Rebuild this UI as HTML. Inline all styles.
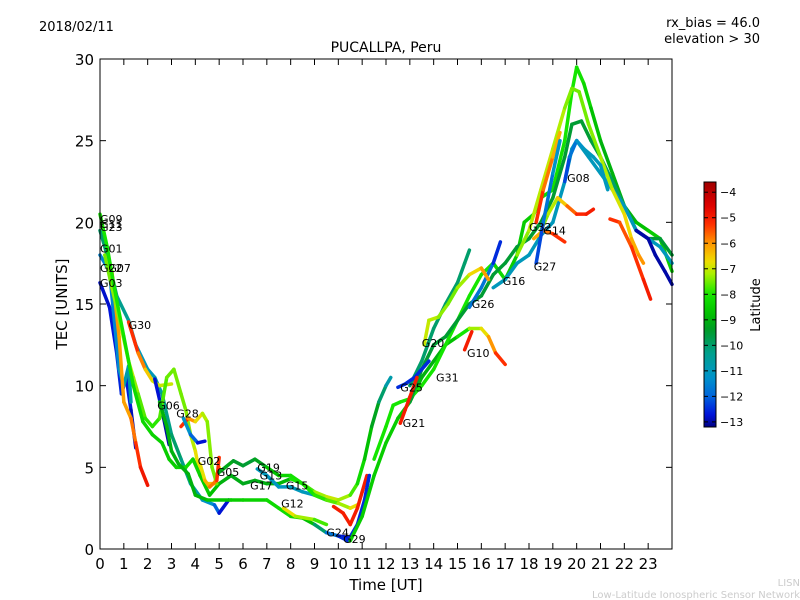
<!DOCTYPE html>
<html><head><meta charset="utf-8"><style>
body{margin:0;background:#fff;}
svg{display:block;font-family:"DejaVu Sans","Liberation Sans",sans-serif;}
</style></head><body>
<svg id="chart" width="800" height="600" xmlns="http://www.w3.org/2000/svg">
<text x="39" y="31" font-size="13">2018/02/11</text>
<text x="760" y="27" font-size="13" text-anchor="end">rx_bias = 46.0</text>
<text x="760" y="43" font-size="13" text-anchor="end">elevation &gt; 30</text>
<text x="386" y="52" font-size="14" text-anchor="middle">PUCALLPA, Peru</text>
<text x="386" y="590" font-size="15" text-anchor="middle">Time [UT]</text>
<text transform="translate(67,304) rotate(-90)" font-size="15" text-anchor="middle">TEC [UNITS]</text>
<text x="800" y="586" font-size="10" fill="#ccc" text-anchor="end">LISN</text>
<text x="800" y="598" font-size="10" fill="#ccc" text-anchor="end">Low-Latitude Ionospheric Sensor Network</text>
<g id="marks"></g>
<g id="axes"></g>
<g id="cbar"></g>
</svg>
<script>
const xTicks=[0,1,2,3,4,5,6,7,8,9,10,11,12,13,14,15,16,17,18,19,20,21,22,23];
const yTicks=[0,5,10,15,20,25,30];
const cbTicks=[-4,-5,-6,-7,-8,-9,-10,-11,-12,-13];
const latMin=-13.2, latMax=-3.6;
const labelNames=["G09","G11","G23","G01","G22","G07","G03","G30","G06","G28","G02","G05","G19","G13","G17","G15","G12","G24","G29","G25","G21","G31","G20","G10","G26","G16","G27","G32","G14","G08"];
const labelT=[0,0,0,0,0,0.35,0,1.2,2.4,3.2,4.1,4.9,6.6,6.7,6.3,7.8,7.6,9.5,10.2,12.6,12.7,14.1,13.5,15.4,15.6,16.9,18.2,18.0,18.6,19.6];
const labelV=[20.2,19.9,19.7,18.4,17.2,17.2,16.3,13.7,8.8,8.3,5.4,4.7,5.0,4.5,3.9,3.9,2.8,1.0,0.6,9.9,7.7,10.5,12.6,12.0,15.0,16.4,17.3,19.7,19.5,22.7];
const traces=[
{t:[0,0.4,0.7,0.9,1.1,1.3,1.5],v:[16.3,14.8,12,9.5,10.5,8.5,6.2],lat:[-12.8,-12.8,-12.6,-12.5,-12.5,-12.8,-13]},
{t:[0,0.4,0.6,0.8,1.0,1.2,1.3],v:[18,17,14,11,10,11.2,9],lat:[-11.5,-11.5,-11.5,-11.3,-11,-10.5,-11]},
{t:[0,0.3,0.7,1.2,1.5,2,2.3,2.6,3,3.4,3.8,4.3,4.8,5.0,5.4],v:[19.5,18,15.5,14,12.5,11,10.5,9.5,7,5.5,4,3,2.7,2.2,3],lat:[-10,-10,-10.2,-10.5,-11,-11,-11,-10.5,-10,-10,-10.5,-11,-11.5,-12.5,-13]},
{t:[1.2,1.6,1.9,2.2,2.5,3],v:[13.9,12,11,10.3,10,10.1],lat:[-5,-5.5,-6.2,-6.8,-7,-7]},
{t:[2.3,2.6,2.9],v:[10.4,8.5,6.4],lat:[-12.5,-13,-13]},
{t:[0.5,0.8,1.0,1.3,1.5,1.7,2.0],v:[17,13,9,8,6.5,5,3.9],lat:[-6,-6,-6.2,-6,-5.5,-5,-4.8]},
{t:[0.2,0.5,0.9,1.2,1.4,1.6,1.9,2.2,2.5,2.8,3.1,3.4,3.6,3.8,4.0,4.2,4.4,4.8,5.0],v:[18,16,13.5,11.5,10.5,9.5,8,7.5,8,10.5,11,9.5,8.5,7,6,4.5,4,4,5],lat:[-7.5,-7.5,-7.2,-7,-7.2,-7.5,-7.8,-8,-7.8,-7.6,-7.5,-7.5,-7.5,-7.2,-7,-6.5,-6.5,-6.5,-6.8]},
{t:[0,0.3,0.6,1.0,1.4,1.8,2.2,2.6,2.9,3.2,3.6,3.9,4.2,4.6,5,5.5,6,6.5,7,7.5,8],v:[20.5,18.5,16,13,10,7.8,7,6.5,5.5,5,5,5.5,4.5,3.3,4,4.5,4,4.2,4,4,4.3],lat:[-8,-8,-8,-8,-8.2,-8.3,-8.3,-8.5,-8.5,-8.5,-8.2,-8.2,-8.5,-8.5,-9,-9,-9.2,-9.2,-9,-9,-8.8]},
{t:[2.5,2.8,3.0,3.3,3.7,4.0,4.5,5.5,6,7,7.5,8,8.5,9,9.5,10,10.5],v:[9,7.5,6,5.2,4.6,3.3,3,3,3,3,2.5,2,1.9,1.5,1,0.8,0.7],lat:[-9,-9,-9,-9,-9,-9,-8.8,-8.5,-8.5,-8.3,-8.2,-8.2,-8.5,-9,-11,-12.5,-13]},
{t:[3.4,3.7,4.0,4.3,4.5,4.7,4.9],v:[7.5,8,7.8,8.3,7.8,5,4],lat:[-5,-5.5,-6.5,-7,-7.3,-7.5,-7.5]},
{t:[3.5,3.8,4.1,4.4],v:[8,7,6.5,6.6],lat:[-11,-11.5,-12.5,-13]},
{t:[4.2,4.4,4.6,4.9,5.0],v:[5.2,4.2,3.8,4.2,5.6],lat:[-7,-6.5,-6,-5.5,-5]},
{t:[5,5.6,6,6.5,7,7.5,8,8.5,9,9.5,10,10.5,10.8,11.1,11.4,11.7,12,12.2],v:[4.7,5.4,5.1,5.5,5,4.5,4.5,4,3.5,3.2,3,3.3,4,5.5,7.5,9,10,10.5],lat:[-9,-9.3,-9.5,-9.5,-9,-8.5,-8.2,-8,-7.5,-7,-7,-7.5,-8,-8.5,-9,-9.5,-10.5,-11]},
{t:[6.6,7,7.5,8,8.5,9,9.5],v:[4.9,4.5,3.8,3.8,3.5,3.3,3],lat:[-11,-11,-11.2,-11,-11,-11,-11]},
{t:[7.7,8.2,9,9.5],v:[2.5,2,1.8,1.5],lat:[-6.5,-7,-7.5,-8]},
{t:[8,8.5,9,9.5,10,10.5,10.8],v:[4.3,4,3.3,3,2.8,2.5,2.7],lat:[-8,-8,-8,-7.8,-7.5,-7,-6.5]},
{t:[9.8,10.2,10.5,10.8,11.0,11.2],v:[2.6,2.2,1.5,2.5,3.5,4.5],lat:[-5,-5,-5,-5,-5,-5]},
{t:[10,10.4,10.8,11.1,11.3],v:[0.8,0.5,1.5,3,4.5],lat:[-12.5,-12.5,-12.5,-12.5,-12.5]},
{t:[10.5,11,11.5,12,12.5,13,13.5,14,14.5,15,15.5,16,16.3,16.6,17],v:[0.5,2,4.5,6.5,8,9,10.5,11.5,12.5,13,13.5,13.5,13,12,11.3],lat:[-8.5,-8.5,-8.5,-8.5,-8.5,-8.8,-9,-9,-9,-8.5,-7.5,-7,-6.5,-5.5,-5]},
{t:[11.5,12,12.3,12.6,13,13.5,14,14.5,15,15.5,16,16.5,17,17.5,17.8,18.2,18.5,19,19.5,19.8,20,20.3,20.6,21,21.5,22,22.5,23,23.5,24],v:[5.5,7.5,8.8,9,9.2,10,11,12.5,14,15.5,16.8,17.5,16.5,18,20,20.5,21.5,22,25,28,29.5,28.5,27,25,23,21,20,19.5,19,17],lat:[-8,-8,-8,-8,-8,-8,-8,-8,-8,-8,-8,-8,-8.5,-8.5,-8.5,-8.5,-8.3,-8.2,-8,-8,-8,-8.2,-8.5,-9,-9,-9,-9,-8.5,-8.5,-8.5]},
{t:[13,13.5,14,14.5,15,15.5,16,16.5,17,17.5,18,18.5,19,19.5,19.8,20.2,20.6,21,21.5,22,22.5,23,23.5,24],v:[9,11,12.5,13,14,15,15.5,16.8,17.5,18.5,19,20,21.5,24,26,26.2,25,24,22.5,21,19.5,19,19,18],lat:[-9.5,-9.5,-9.5,-9.5,-9.5,-9.5,-9.5,-9.5,-9.5,-9.5,-9.5,-9.5,-9.5,-9.5,-9.5,-9.5,-9.5,-9.8,-10,-10,-9.5,-9.5,-9.5,-9.5]},
{t:[13,13.5,14,14.5,15,15.3,15.5],v:[10,11.5,13.5,15,16.3,17.5,18.3],lat:[-10,-10,-10,-10,-10,-10,-10]},
{t:[15.5,16,16.5,16.8],v:[14.8,16,17.5,18.8],lat:[-12,-11.5,-12,-13]},
{t:[16.5,17,17.5,18,18.5,19,19.5,19.8,20,20.5,21,21.5,22,22.5,23,23.5,24],v:[16,16.5,17.5,18,19.2,20,22.5,24.5,25,24,23,22,21,19.5,19,18.5,17.5],lat:[-11,-11,-11,-11,-11,-11,-11,-11,-11,-11,-11,-11,-11,-11,-11,-11,-11]},
{t:[13.6,13.8,14.2,14.6,15,15.5,16,16.3],v:[12.5,14,14.2,15,16,16.8,17.2,16.5],lat:[-7,-7,-7.2,-7.5,-7.5,-7,-6.3,-5.8]},
{t:[17.5,18,18.5,19,19.5,19.8,20.1,20.5,21,21.5,22,22.3,22.6,22.8],v:[18,19.5,22,24.5,27,28.2,28,26,24,22,20.5,19,18,17.5],lat:[-7.5,-7.2,-7,-7,-7.3,-7.5,-7.5,-7.5,-7.3,-7,-6.8,-6.5,-6,-6]},
{t:[18.3,18.6,19,19.3],v:[20,22,24,25.5],lat:[-5,-5.5,-6,-6.5]},
{t:[18.5,18.8,19.2,19.6,20,20.4,20.7],v:[19.5,20.5,21.5,21,20.5,20.5,20.8],lat:[-7.5,-7.2,-7,-6,-5.3,-5,-5]},
{t:[18.2,18.6,19,19.5],v:[19,19.5,19.3,18.8],lat:[-6.5,-6,-5.5,-5]},
{t:[19.5,19.7,20,20.3,20.7,21,21.3],v:[22.5,24,25,24.5,24,23.5,22],lat:[-12.5,-12,-11.5,-11,-11,-11,-11]},
{t:[21.4,21.8,22.3,22.8,23.1],v:[20.2,20,18.5,16.5,15.3],lat:[-5,-5.5,-5.5,-5,-5]},
{t:[22.5,23,23.3,23.7,24],v:[19.5,19,18,17,16.2],lat:[-13,-13,-13,-13,-13]},
{t:[12.5,12.8,13.2,13.5,13.8],v:[9.9,10.1,10.5,11,11.5],lat:[-12.5,-12.5,-12.5,-12.5,-12.5]},
{t:[12.6,12.8,13,13.3],v:[7.7,8.5,9.3,10.5],lat:[-5,-5,-5,-5]},
{t:[18.3,18.6,19,19.3],v:[17.5,20,23,25],lat:[-12.5,-12,-11.5,-11]},
{t:[15.3,15.6],v:[12.2,13.3],lat:[-5,-5]}
];
const X0=100,X1=672,Y0=549,Y1=59;
const sx=t=>X0+t*(X1-X0)/24, sy=v=>Y0-v*(Y0-Y1)/30;
const cmStops=[[-13.2,0,0,130],[-12.7,0,20,220],[-12.0,0,100,220],[-11.2,0,150,200],[-10.3,0,160,140],[-9.4,0,155,40],[-8.8,0,190,0],[-8.0,20,230,0],[-7.2,170,240,0],[-6.7,240,220,0],[-6.0,255,150,0],[-5.2,255,40,0],[-4.5,220,0,0],[-3.6,160,0,0]];
function col(l){
 if(l<=cmStops[0][0])return `rgb(${cmStops[0][1]},${cmStops[0][2]},${cmStops[0][3]})`;
 for(let i=0;i<cmStops.length-1;i++){const a=cmStops[i],b=cmStops[i+1];
  if(l<=b[0]){const f=(l-a[0])/(b[0]-a[0]);return `rgb(${Math.round(a[1]+f*(b[1]-a[1]))},${Math.round(a[2]+f*(b[2]-a[2]))},${Math.round(a[3]+f*(b[3]-a[3]))})`;}}
 const z=cmStops[cmStops.length-1];return `rgb(${z[1]},${z[2]},${z[3]})`;}
const NS="http://www.w3.org/2000/svg";
function mk(tag,attrs,parent){const e=document.createElementNS(NS,tag);for(const k in attrs)e.setAttribute(k,attrs[k]);parent.appendChild(e);return e;}
const marks=document.getElementById('marks');
traces.forEach((tr,i)=>{
 const g=mk('g',{},marks);
 
 
 for(let j=0;j<tr.t.length-1;j++){
  const s=mk('line',{x1:sx(tr.t[j]),y1:sy(tr.v[j]),x2:sx(tr.t[j+1]),y2:sy(tr.v[j+1]),stroke:col((tr.lat[j]+tr.lat[j+1])/2),'stroke-width':3.5,'stroke-linecap':'round'},g);
  
  
 }
});
labelNames.forEach((n,i)=>{
 const t=mk('text',{x:sx(labelT[i]),y:sy(labelV[i])+4,'font-size':11},marks);
 t.textContent=n;
 
 
});
const ax=document.getElementById('axes');
const frame=mk('rect',{x:X0,y:Y1,width:X1-X0,height:Y0-Y1,fill:'none',stroke:'#000','stroke-width':1},ax);


xTicks.forEach(t=>{
 const x=sx(t);
 mk('line',{x1:x,y1:Y0,x2:x,y2:Y0-6,stroke:'#000'},ax);
 mk('line',{x1:x,y1:Y1,x2:x,y2:Y1+6,stroke:'#000'},ax);
 const l=mk('text',{x:x,y:Y0+20,'font-size':15,'text-anchor':'middle'},ax);
 l.textContent=t;
 
 
});
yTicks.forEach(v=>{
 const y=sy(v);
 mk('line',{x1:X0,y1:y,x2:X0+6,y2:y,stroke:'#000'},ax);
 mk('line',{x1:X1,y1:y,x2:X1-6,y2:y,stroke:'#000'},ax);
 const l=mk('text',{x:X0-6,y:y+6,'font-size':15,'text-anchor':'end'},ax);
 l.textContent=v;
 
 
});
const cb=document.getElementById('cbar');
const CB0=182,CB1=427,CBX=704,CBW=12;
const defs=mk('defs',{},cb);
const grad=mk('linearGradient',{id:'jetg',x1:0,y1:1,x2:0,y2:0},defs);
for(let i=0;i<=40;i++){const l=latMin+(latMax-latMin)*i/40;mk('stop',{offset:i/40,'stop-color':col(l)},grad);}
const cbr=mk('rect',{x:CBX,y:CB0,width:CBW,height:CB1-CB0,fill:'url(#jetg)',stroke:'#000'},cb);


const cy=l=>CB1-(l-latMin)/(latMax-latMin)*(CB1-CB0);
cbTicks.forEach(l=>{
 const y=cy(l);
 mk('line',{x1:CBX+CBW-4,y1:y,x2:CBX+CBW,y2:y,stroke:'#000'},cb);
 mk('line',{x1:CBX,y1:y,x2:CBX+4,y2:y,stroke:'#000'},cb);
 const t=mk('text',{x:CBX+CBW+4,y:y+4,'font-size':11},cb);
 t.textContent=String(l).replace('-','\u2212');
 
 
});
const lt=mk('text',{transform:'translate(760,305) rotate(-90)','font-size':13,'text-anchor':'middle'},cb);
lt.textContent='Latitude';


</script>
</body></html>
